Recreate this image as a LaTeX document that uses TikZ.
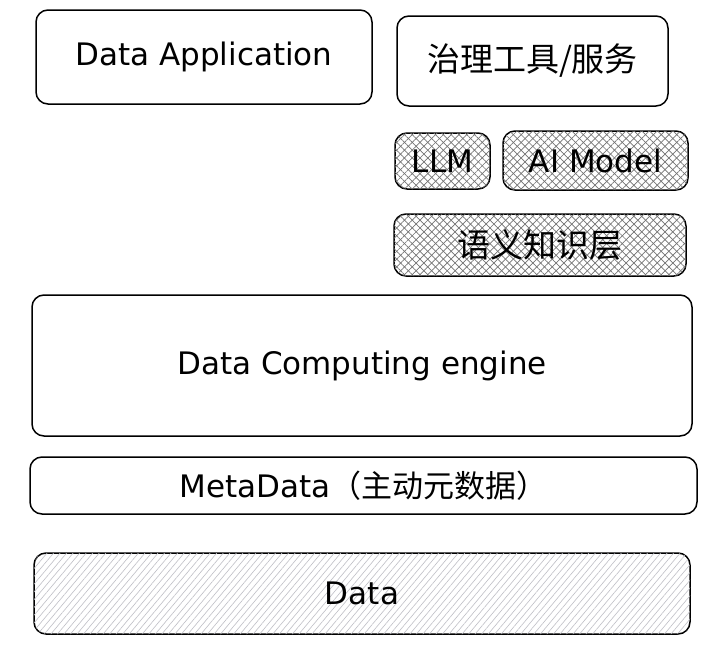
\documentclass[tikz,border=0pt]{standalone}
\usepackage{fontspec}
\setmainfont{DejaVu Sans}
\newfontfamily\cjkfont{Noto Sans CJK SC}
\usetikzlibrary{patterns.meta}
\tikzset{
  box/.style={draw=black, line width=1.5pt, rounded corners=12pt, inner sep=0pt, fill=white},
  hatchbox/.style={box, postaction={pattern={Lines[angle=45,distance=5.5pt,line width=0.7pt]}, pattern color=black!55},
     postaction={pattern={Lines[angle=-45,distance=5.5pt,line width=0.7pt]}, pattern color=black!55}},
  databox/.style={box, postaction={pattern={Lines[angle=50,distance=5pt,line width=0.6pt]}, pattern color=blue!10!black!25}},
  lbl/.style={font=\fontsize{31}{34}\selectfont},
  cjk/.style={font=\cjkfont\fontsize{33}{36}\selectfont}
}
\begin{document}
\begin{tikzpicture}[x=1pt,y=-1pt]
\useasboundingbox (0,0) rectangle (712,648);
% boxes
\node[box, minimum width=336pt, minimum height=94pt] (app) at (204,57) {};
\node[box, minimum width=271pt, minimum height=90pt] (gov) at (532.5,61) {};
\node[hatchbox, minimum width=95pt, minimum height=56pt] (llm) at (442.5,161) {};
\node[hatchbox, minimum width=185pt, minimum height=59pt] (ai) at (595.5,160.5) {};
\node[hatchbox, minimum width=292pt, minimum height=62pt] (sem) at (540,245) {};
\node[box, minimum width=660pt, minimum height=141pt] (eng) at (362,365.5) {};
\node[box, minimum width=667pt, minimum height=57pt] (meta) at (363.5,485.5) {};
\node[databox, minimum width=656pt, minimum height=81pt] (data) at (362,593.5) {};
% labels
\node[lbl] (tapp) at (app.center) {Data Application};
\node[cjk] (tgov) at (gov.center) {治理工具/服务};
\node[lbl] (tllm) at (llm.center) {LLM};
\node[lbl] (tai) at (ai.center) {AI Model};
\node[cjk] (tsem) at (sem.center) {语义知识层};
\node[lbl] (teng) at (eng.center) {Data Computing engine};
\node[lbl] (tmeta) at (meta.center) {MetaData{\cjkfont（主动元数据）}};
\node[lbl] (tdata) at (data.center) {Data};
\end{tikzpicture}
\end{document}
